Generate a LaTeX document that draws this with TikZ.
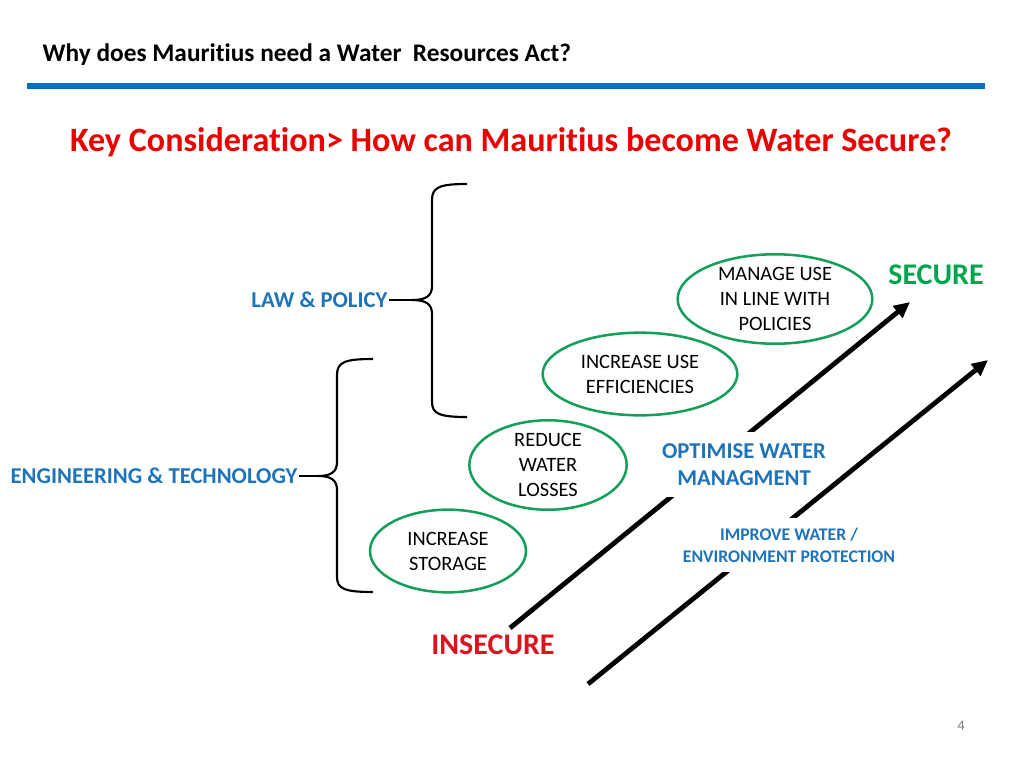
\documentclass[tikz,border=0pt]{standalone}
\usepackage{fontspec}
\setmainfont{Carlito}[Ligatures=NoCommon]
\usetikzlibrary{arrows.meta,shapes.geometric}
\definecolor{lineblue}{RGB}{0,112,192}
\definecolor{txtblue}{RGB}{30,115,185}
\definecolor{kred}{RGB}{235,0,0}
\definecolor{ired}{RGB}{220,20,30}
\definecolor{egreen}{RGB}{20,160,90}
\definecolor{sgreen}{RGB}{0,165,80}
\tikzset{
  oval/.style={ellipse, draw=egreen, line width=1.9pt, minimum width=#1, minimum height=62pt, inner sep=0pt, align=center, font=\fontsize{15.3}{18.7}\selectfont},
  bluelbl/.style={text=txtblue, font=\bfseries\fontsize{17}{20}\selectfont, inner sep=1pt},
  brace/.style={line width=1.6pt, black},
  bigarrow/.style={line width=3.6pt, -{Triangle[length=12pt,width=11pt]}},
}
\begin{document}
\begin{tikzpicture}[x=0.75pt,y=-0.75pt]
\useasboundingbox (0,0) rectangle (1024,768);
% header
\node[anchor=west, font=\bfseries\fontsize{19}{22}\selectfont] (title) at (38,55) {Why does Mauritius need a Water\ \ Resources Act?};
\draw[lineblue, line width=4pt] (27,86) -- (985,86);
\node[text=kred, font=\bfseries\fontsize{25.6}{30}\selectfont] (key) at (511,142) {Key Consideration> How can Mauritius become Water Secure?};

% labels
\node[bluelbl, anchor=east] (law) at (389,300) {LAW \& POLICY};
\node[bluelbl, anchor=east] (eng) at (299,476) {ENGINEERING \& TECHNOLOGY};

% upper brace
\coordinate (lawcusp) at (412,300);
\draw[brace] (467,184) .. controls (440,184) and (432,187) .. (432,200) -- (432,286)
  .. controls (432,296) and (426,300) .. (lawcusp)
  .. controls (426,300) and (432,304) .. (432,314) -- (432,402)
  .. controls (432,414) and (440,417) .. (467,417);
\draw[brace] (law.east) -- (lawcusp);
% lower brace
\coordinate (engcusp) at (318,476);
\draw[brace] (373,359) .. controls (345,359) and (337,362) .. (337,375) -- (337,462)
  .. controls (337,472) and (331,476) .. (engcusp)
  .. controls (331,476) and (337,480) .. (337,490) -- (337,577)
  .. controls (337,589) and (345,592) .. (373,592);
\draw[brace] (eng.east) -- (engcusp);

% arrows, each cut by the white background of its label
\coordinate (a1s) at (510,628);
\coordinate (a1e) at (910,302);
\coordinate (a2s) at (588,684);
\coordinate (a2e) at (988,360);
\draw[bigarrow] (a1s) -- (a1e);
\node[bluelbl, fill=white, align=center, inner xsep=1pt, inner ysep=0pt, minimum height=48.75pt, font=\bfseries\fontsize{17}{20.5}\selectfont] (opt) at (744,464.5) {OPTIMISE WATER\\MANAGMENT};
\draw[bigarrow] (a2s) -- (a2e);
\node[bluelbl, fill=white, align=center, inner xsep=3pt, inner ysep=0pt, minimum height=40.5pt, font=\bfseries\fontsize{13.3}{16.5}\selectfont] (imp) at (789,545) {IMPROVE WATER /\\ENVIRONMENT PROTECTION};

\node[text=sgreen, font=\bfseries\fontsize{22.5}{26}\selectfont] (secure) at (936,275) {SECURE};
\node[text=ired, font=\bfseries\fontsize{22.5}{26}\selectfont] (insecure) at (493,645) {INSECURE};

% ovals
\node[oval=146pt] (manage) at (775,299) {MANAGE USE\\IN LINE WITH\\POLICIES};
\node[oval=146pt] (eff) at (640,374) {INCREASE USE\\EFFICIENCIES};
\node[oval=118pt] (reduce) at (548,465) {REDUCE\\WATER\\LOSSES};
\node[oval=117pt] (storage) at (448,551) {INCREASE\\STORAGE};

% page number
\node[text=gray, font=\fontsize{11}{13}\selectfont] (pg) at (961,726) {4};
\end{tikzpicture}
\end{document}
